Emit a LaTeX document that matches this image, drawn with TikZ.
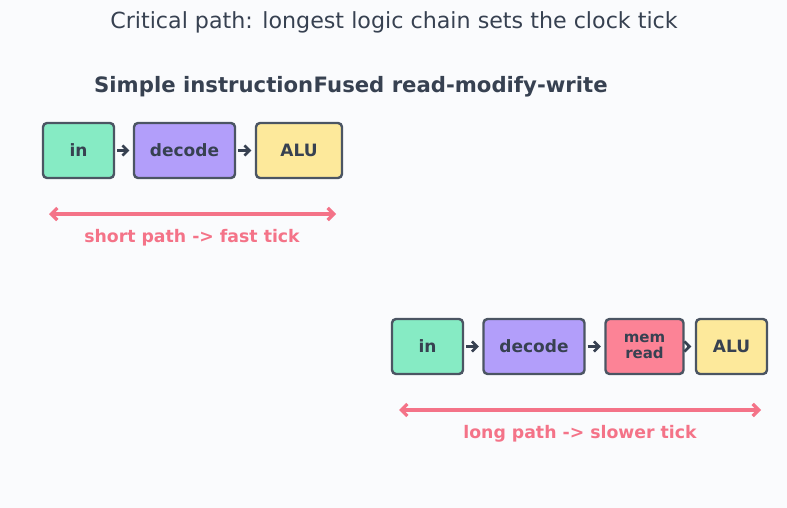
\documentclass[tikz,border=0pt]{standalone}
\usepackage{fontspec}
\setmainfont{DejaVu Sans}
\usetikzlibrary{arrows.meta}
\definecolor{bg}{HTML}{FAFBFD}
\definecolor{ink}{HTML}{374151}
\definecolor{edge}{HTML}{4B5563}
\definecolor{cgreen}{HTML}{86EBC4}
\definecolor{cpurple}{HTML}{B29EFA}
\definecolor{cyellow}{HTML}{FDE99B}
\definecolor{cpink}{HTML}{FC8396}
\definecolor{accent}{HTML}{F47388}
\tikzset{
  blk/.style={draw=edge, line width=2.4pt, rounded corners=4pt, inner sep=0pt,
    text=ink, font=\bfseries\fontsize{17}{19}\selectfont, align=center},
  flow/.style={draw=ink, line width=2.6pt, -{Straight Barb[length=5pt,width=10pt]}, shorten <=2pt, shorten >=3.5pt},
  span/.style={draw=accent, line width=3.2pt, line cap=round, {Straight Barb[length=6pt,width=12pt]}-{Straight Barb[length=6pt,width=12pt]}},
  lbl/.style={text=accent, font=\bfseries\fontsize{17.3}{19}\selectfont},
}
\begin{document}
\begin{tikzpicture}[x=1pt,y=-1pt]
\fill[bg] (0,0) rectangle (787,508);
\useasboundingbox (0,0) rectangle (787,508);
\node[text=ink, font=\fontsize{22.2}{26}\selectfont] (title) at (394,22) {Critical path: longest logic chain sets the clock tick};
\node[text=ink, font=\bfseries\fontsize{21.2}{24}\selectfont, anchor=west, inner sep=0pt] (h1) at (94,87) {Simple instruction};
\node[text=ink, font=\bfseries\fontsize{21.2}{24}\selectfont, anchor=west, inner sep=0pt] (h2) at (h1.east) {Fused read-modify-write};
% top row
\node[blk, fill=cgreen, minimum width=71pt, minimum height=55pt] (a1) at (78.5,150.5) {in};
\node[blk, fill=cpurple, minimum width=101pt, minimum height=55pt] (a2) at (184.5,150.5) {decode};
\node[blk, fill=cyellow, minimum width=86pt, minimum height=55pt] (a3) at (299,150.5) {ALU};
\draw[flow] (a1) -- (a2);
\draw[flow] (a2) -- (a3);
\coordinate (s1) at (49,214);
\coordinate (s2) at (336,214);
\draw[span] (s1) -- (s2);
\node[lbl] (l1) at (192,237.5) {short path -> fast tick};
% bottom row
\node[blk, fill=cgreen, minimum width=71pt, minimum height=55pt] (b1) at (427.5,346.5) {in};
\node[blk, fill=cpurple, minimum width=101pt, minimum height=55pt] (b2) at (534,346.5) {decode};
\node[blk, fill=cpink, minimum width=78pt, minimum height=55pt, font=\bfseries\fontsize{15}{16}\selectfont] (b3) at (644.5,346.5) {mem\\read};
\node[blk, fill=cyellow, minimum width=71pt, minimum height=55pt] (b4) at (731.5,346.5) {ALU};
\draw[flow] (b1) -- (b2);
\draw[flow] (b2) -- (b3);
\draw[flow] (b3) -- (b4);
\coordinate (t1) at (399,410);
\coordinate (t2) at (761,410);
\draw[span] (t1) -- (t2);
\node[lbl] (l2) at (580,433.5) {long path -> slower tick};
\end{tikzpicture}
\end{document}
